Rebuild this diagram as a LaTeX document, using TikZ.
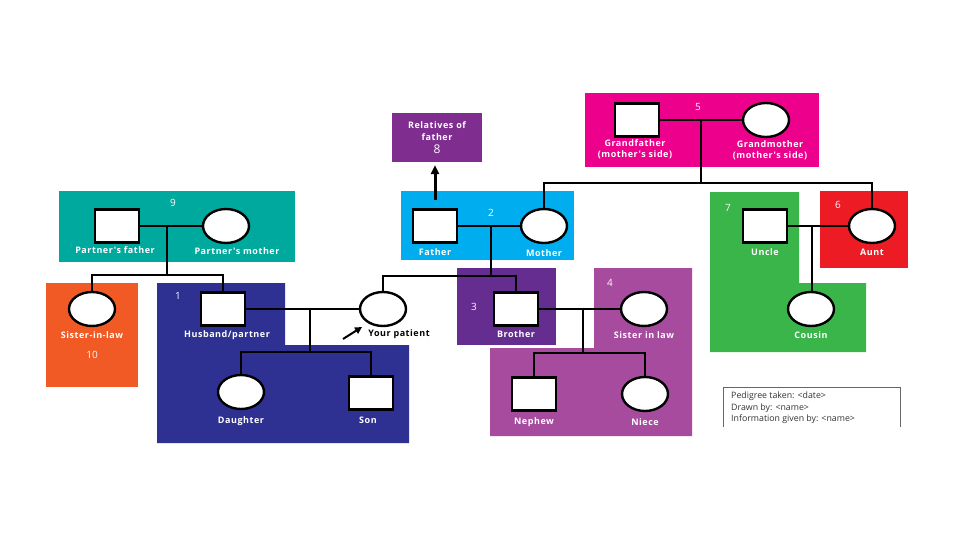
\documentclass[tikz,border=0pt]{standalone}
\usepackage{fontspec}
\setmainfont{Open Sans}
\usetikzlibrary{arrows.meta, positioning, shapes.geometric}
\definecolor{magentabox}{HTML}{EC008C}
\definecolor{relbox}{HTML}{7F2E90}
\definecolor{bluebox}{HTML}{00AEEF}
\definecolor{tealbox}{HTML}{00A99D}
\definecolor{orangebox}{HTML}{F15A24}
\definecolor{navybox}{HTML}{2E3192}
\definecolor{violetbox}{HTML}{662D91}
\definecolor{plumbox}{HTML}{A64B9D}
\definecolor{greenbox}{HTML}{39B54A}
\definecolor{redbox}{HTML}{ED1C24}
\newfontfamily\lblfont[LetterSpace=6]{Open Sans}

\begin{document}
\begin{tikzpicture}[x=1pt, y=-1pt,
    male/.style={draw, line width=2.4pt, fill=white, minimum width=44pt, minimum height=33pt, inner sep=0pt},
    female/.style={ellipse, draw, line width=2.4pt, fill=white, minimum width=46pt, minimum height=34pt, inner sep=0pt},
    lbl/.style={text=white, font=\lblfont\fontsize{9}{11}\selectfont\bfseries, align=center, inner sep=1pt},
    num/.style={text=white!90!pink, font=\fontsize{10}{12}\selectfont},
    link/.style={line width=1.8pt}]
  \useasboundingbox[fill=white] (0,0) rectangle (960,540);

  % coloured groups
  \foreach \col/\xa/\ya/\xb/\yb in {magentabox/585/93/819/167, bluebox/401/191/574/260,
      tealbox/59/191/295/262, orangebox/46/283/138/387, violetbox/457/268/556/345, redbox/820/191/908/268}
    \fill[\col] (\xa,\ya) rectangle (\xb,\yb);
  \fill[navybox] (157,283) -- (285,283) -- (285,345) -- (409,345) -- (409,443) -- (157,443) -- cycle;
  \fill[plumbox] (594,268) -- (692,268) -- (692,436) -- (490,436) -- (490,348) -- (594,348) -- cycle;
  \fill[greenbox] (710,192) -- (799,192) -- (799,283) -- (866,283) -- (866,352) -- (710,352) -- cycle;

  \foreach \n/\x/\y in {5/698/107, 9/173/203, 2/491/213, 1/178/296, 10/92/355,
      3/474/307, 4/610/283, 7/728/208, 6/838/205}
    \node[num] (num\n) at (\x,\y) {\n};

  \node[lbl, fill=relbox, minimum width=90pt, minimum height=49pt,
        font=\lblfont\fontsize{9}{12.5}\selectfont\bfseries] (rel) at (437,137.5)
    {Relatives of\\father\\{\fontsize{12}{12}\selectfont\mdseries 8}};

  % people
  \node[male] (gfather) at (637,120) {};
  \node[female] (gmother) at (766,120) {};
  \node[male] (pfather) at (117,226) {};
  \node[female] (pmother) at (226,226) {};
  \node[male] (father) at (435,226) {};
  \node[female] (mother) at (544,226) {};
  \node[male] (uncle) at (765,226) {};
  \node[female] (aunt) at (872,226) {};
  \node[female] (sil) at (92,309) {};
  \node[male] (husband) at (223,309) {};
  \node[female] (patient) at (383,309) {};
  \node[male] (brother) at (516,309) {};
  \node[female] (sister) at (644,309) {};
  \node[female] (cousin) at (811,309) {};
  \node[female] (daughter) at (241,392) {};
  \node[male] (son) at (371,393) {};
  \node[male] (nephew) at (534,394) {};
  \node[female] (niece) at (645,394) {};

  \node[lbl, below=1pt of gfather, xshift=-2pt] (gfatherlbl) {Grandfather\\(mother's side)};
  \node[lbl, below=1pt of gmother, xshift=4pt] (gmotherlbl) {Grandmother\\(mother's side)};
  \node[lbl, below=2pt of pfather, xshift=-2pt] (pfatherlbl) {Partner's father};
  \node[lbl, below=2pt of pmother, xshift=11pt] (pmotherlbl) {Partner's mother};
  \node[lbl, below=4pt of father] (fatherlbl) {Father};
  \node[lbl, below=4pt of mother] (motherlbl) {Mother};
  \node[lbl, below=4pt of uncle] (unclelbl) {Uncle};
  \node[lbl, below=4pt of aunt] (auntlbl) {Aunt};
  \node[lbl, below=3pt of sil] (sillbl) {Sister-in-law};
  \node[lbl, below=3pt of husband, xshift=4pt] (husbandlbl) {Husband/partner};
  \node[lbl, below=3pt of brother] (brotherlbl) {Brother};
  \node[lbl, below=3pt of sister] (sisterlbl) {Sister in law};
  \node[lbl, below=3pt of cousin] (cousinlbl) {Cousin};
  \node[lbl, below=5pt of daughter] (daughterlbl) {Daughter};
  \node[lbl, below=5pt of son, xshift=-3pt] (sonlbl) {Son};
  \node[lbl, below=5pt of nephew] (nephewlbl) {Nephew};
  \node[lbl, below=5pt of niece] (niecelbl) {Niece};
  \node[lbl, text=black] (ptlbl) at (399,334) {Your patient};

  % couples and children
  \coordinate (m5) at (701,120);  \coordinate (s5) at (701,183);
  \coordinate (m9) at (167,226);  \coordinate (s9) at (167,275);
  \coordinate (m2) at (491,226);  \coordinate (s2) at (491,276);
  \coordinate (m7) at (812,226);
  \coordinate (m1) at (310,309);  \coordinate (s1) at (310,352);
  \coordinate (m3) at (583,309);  \coordinate (s3) at (583,353);

  \draw[link] (gfather) -- (gmother);
  \draw[link] (m5) -- (s5);
  \draw[link] (mother.north) |- (s5) -| (aunt.north);
  \draw[link] (pfather) -- (pmother);
  \draw[link] (m9) -- (s9);
  \draw[link] (sil.north) |- (s9) -| (husband.north);
  \draw[link] (father) -- (mother);
  \draw[link] (m2) -- (s2);
  \draw[link] (patient.north) |- (s2) -| (brother.north);
  \draw[link] (uncle) -- (aunt);
  \draw[link] (m7) -- (m7 |- cousin.north);
  \draw[link] (husband) -- (patient);
  \draw[link] (m1) -- (s1);
  \draw[link] (daughter.north) |- (s1) -| (son.north);
  \draw[link] (brother) -- (sister);
  \draw[link] (m3) -- (s3);
  \draw[link] (nephew.north) |- (s3) -| (niece.north);

  \draw[line width=3pt, -{Triangle[length=9pt, width=8pt]}, shorten <=8pt, shorten >=3pt]
    (father.north) -- (father.north |- rel.south);
  \coordinate (ptail) at (343,339);
  \coordinate (phead) at (362,327);
  \draw[line width=2pt, -{Triangle[length=7pt, width=7pt]}] (ptail) -- (phead);

  % record box
  \draw[black!60, line width=0.8pt] (723,427) -- (723,387) -- (900,387) -- (900,427);
  \node[anchor=north west, align=left, text=black!80, inner sep=0pt,
        font=\fontsize{8.8}{11.5}\selectfont] (record) at (731,392)
    {Pedigree taken: <date>\\Drawn by: <name>\\Information given by: <name>};
\end{tikzpicture}
\end{document}
